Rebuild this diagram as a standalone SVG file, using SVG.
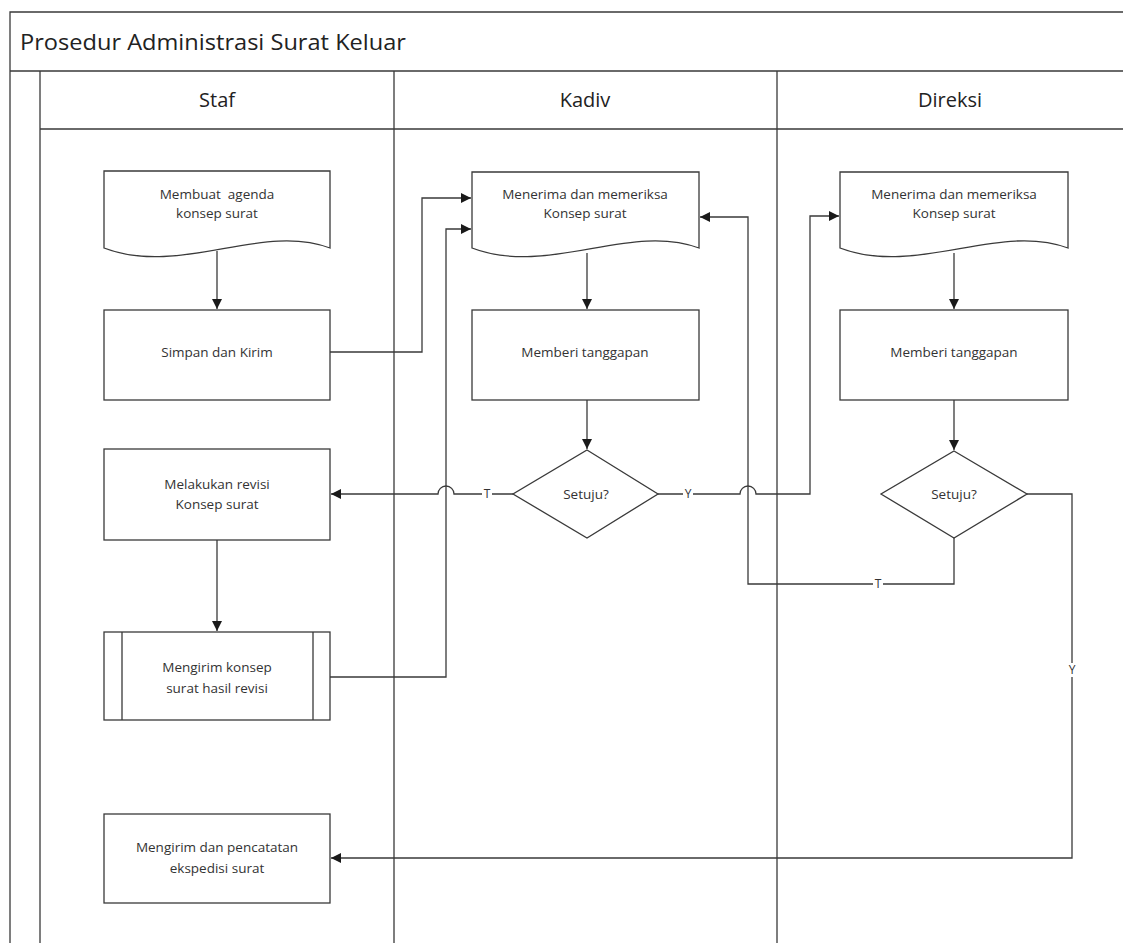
<svg xmlns="http://www.w3.org/2000/svg" width="1123" height="943" viewBox="0 0 1123 943">
<style>
.frame{fill:none;stroke:#3a3a3a;stroke-width:1.3}
.shape{fill:#fff;stroke:#3a3a3a;stroke-width:1.3}
.conn{fill:none;stroke:#3a3a3a;stroke-width:1.3}
.t{font-family:"Open Sans","Liberation Sans",sans-serif;font-size:13.5px;fill:#333;text-anchor:middle}
.h{font-family:"Open Sans","Liberation Sans",sans-serif;font-size:20px;fill:#222;text-anchor:middle}
.lbl{font-family:"Open Sans","Liberation Sans",sans-serif;font-size:12px;fill:#333;text-anchor:middle}
</style>
<defs>
<marker id="arr" viewBox="0 0 10 10" refX="10" refY="5" markerWidth="10" markerHeight="10" markerUnits="userSpaceOnUse" orient="auto">
<path d="M0,0 L10,5 L0,10 Z" fill="#1a1a1a"/>
</marker>
</defs>
<rect width="1123" height="943" fill="#fff"/>
<g id="pool">
<path class="frame" d="M1123 12 H10 V943 M10 71 H1123 M40 71 V943 M40 129 H1123 M394 71 V943 M777 71 V943"/>
<text x="20" y="50" font-family="'Open Sans','Liberation Sans',sans-serif" font-size="21" fill="#222" textLength="386" lengthAdjust="spacingAndGlyphs">Prosedur Administrasi Surat Keluar</text>
<text class="h" x="217" y="107">Staf</text>
<text class="h" x="585" y="107">Kadiv</text>
<text class="h" x="950" y="107">Direksi</text>
</g>
<g id="connectors">
<path class="conn" d="M217 251 V309" marker-end="url(#arr)"/>
<path class="conn" d="M330 352 H422 V198 H471" marker-end="url(#arr)"/>
<path class="conn" d="M330 677 H446 V229 H471" marker-end="url(#arr)"/>
<path class="conn" d="M587 253 V309" marker-end="url(#arr)"/>
<path class="conn" d="M587 400 V449" marker-end="url(#arr)"/>
<path class="conn" d="M513 494 H454 A8 8 0 0 0 438 494 H331" marker-end="url(#arr)"/>
<path class="conn" d="M658 494 H740 A8 8 0 0 1 756 494 H810 V216 H839" marker-end="url(#arr)"/>
<path class="conn" d="M954 253 V309" marker-end="url(#arr)"/>
<path class="conn" d="M954 400 V450" marker-end="url(#arr)"/>
<path class="conn" d="M954 538 V584 H748 V217 H700" marker-end="url(#arr)"/>
<path class="conn" d="M1027 494 H1072 V858 H331" marker-end="url(#arr)"/>
<path class="conn" d="M217 540 V631" marker-end="url(#arr)"/>
<rect x="482" y="487" width="10" height="14" fill="#fff"/>
<text class="lbl" x="487" y="498">T</text>
<rect x="683" y="487" width="10" height="14" fill="#fff"/>
<text class="lbl" x="688" y="498">Y</text>
<rect x="873" y="577" width="10" height="14" fill="#fff"/>
<text class="lbl" x="878" y="588">T</text>
<rect x="1066" y="663" width="12" height="14" fill="#fff"/>
<text class="lbl" x="1072" y="674">Y</text>
</g>
<g id="n1">
<path class="shape" d="M104 171 H330 V248 C262 222 180 277 104 248 Z"/>
<text class="t" x="217" y="199" xml:space="preserve">Membuat  agenda</text>
<text class="t" x="217" y="218">konsep surat</text>
</g>
<g id="n2">
<rect class="shape" x="104" y="310" width="226" height="90"/>
<text class="t" x="217" y="357">Simpan dan Kirim</text>
</g>
<g id="n3">
<rect class="shape" x="104" y="449" width="226" height="91"/>
<text class="t" x="217" y="489">Melakukan revisi</text>
<text class="t" x="217" y="509">Konsep surat</text>
</g>
<g id="n4">
<rect class="shape" x="104" y="632" width="226" height="88"/>
<path class="conn" d="M122 632 V720 M313 632 V720"/>
<text class="t" x="217" y="672">Mengirim konsep</text>
<text class="t" x="217" y="693">surat hasil revisi</text>
</g>
<g id="n5">
<rect class="shape" x="104" y="814" width="226" height="89"/>
<text class="t" x="217" y="852">Mengirim dan pencatatan</text>
<text class="t" x="217" y="873">ekspedisi surat</text>
</g>
<g id="n6">
<path class="shape" d="M472 172 H699 V248 C630 222 548 277 472 248 Z"/>
<text class="t" x="585" y="199">Menerima dan memeriksa</text>
<text class="t" x="585" y="218">Konsep surat</text>
</g>
<g id="n7">
<rect class="shape" x="472" y="310" width="227" height="90"/>
<text class="t" x="585" y="357">Memberi tanggapan</text>
</g>
<g id="n8">
<path class="shape" d="M587 450 L658 494 L587 538 L513 494 Z"/>
<text class="t" x="586" y="499">Setuju?</text>
</g>
<g id="n9">
<path class="shape" d="M840 172 H1068 V248 C999 222 916 277 840 248 Z"/>
<text class="t" x="954" y="199">Menerima dan memeriksa</text>
<text class="t" x="954" y="218">Konsep surat</text>
</g>
<g id="n10">
<rect class="shape" x="840" y="310" width="228" height="90"/>
<text class="t" x="954" y="357">Memberi tanggapan</text>
</g>
<g id="n11">
<path class="shape" d="M954 451 L1027 494 L954 538 L881 494 Z"/>
<text class="t" x="954" y="499">Setuju?</text>
</g>
</svg>
